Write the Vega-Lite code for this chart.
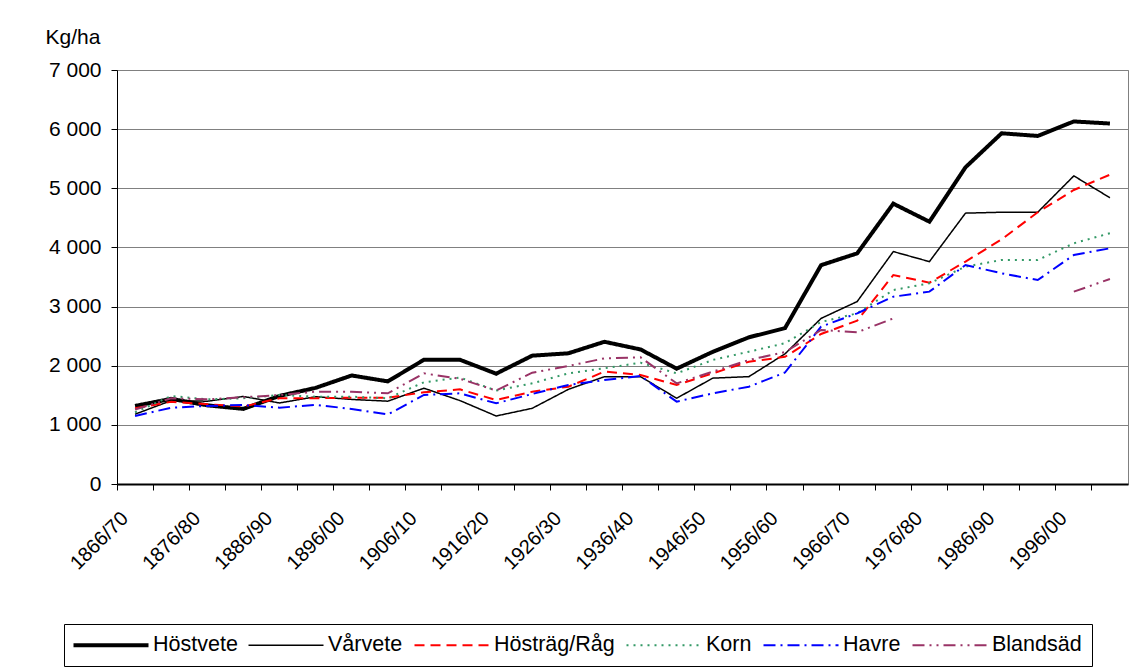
{
"$schema": "https://vega.github.io/schema/vega-lite/v6.json",
"width": 1011, "height": 414,
"autosize": {"type": "none"},
"padding": {"left": 117, "top": 70, "right": 8, "bottom": 187},
"background": "white",
"config": {"font": "Liberation Sans", "view": {"stroke": "#808080", "strokeWidth": 1}},
"datasets": {"d": [
{"p":"1866/70","s":"Höstvete","v":1320},{"p":"1871/75","s":"Höstvete","v":1440},{"p":"1876/80","s":"Höstvete","v":1330},{"p":"1881/85","s":"Höstvete","v":1270},{"p":"1886/90","s":"Höstvete","v":1490},{"p":"1891/95","s":"Höstvete","v":1625},{"p":"1896/00","s":"Höstvete","v":1835},{"p":"1901/05","s":"Höstvete","v":1735},{"p":"1906/10","s":"Höstvete","v":2100},{"p":"1911/15","s":"Höstvete","v":2100},{"p":"1916/20","s":"Höstvete","v":1865},{"p":"1921/25","s":"Höstvete","v":2170},{"p":"1926/30","s":"Höstvete","v":2210},{"p":"1931/35","s":"Höstvete","v":2405},{"p":"1936/40","s":"Höstvete","v":2275},{"p":"1941/45","s":"Höstvete","v":1950},{"p":"1946/50","s":"Höstvete","v":2235},{"p":"1951/55","s":"Höstvete","v":2480},{"p":"1956/60","s":"Höstvete","v":2635},{"p":"1961/65","s":"Höstvete","v":3700},{"p":"1966/70","s":"Höstvete","v":3900},{"p":"1971/75","s":"Höstvete","v":4740},{"p":"1976/80","s":"Höstvete","v":4435},{"p":"1981/85","s":"Höstvete","v":5355},{"p":"1986/90","s":"Höstvete","v":5930},{"p":"1991/95","s":"Höstvete","v":5885},{"p":"1996/00","s":"Höstvete","v":6130},{"p":"2001/05","s":"Höstvete","v":6095},
{"p":"1866/70","s":"Vårvete","v":1180},{"p":"1871/75","s":"Vårvete","v":1410},{"p":"1876/80","s":"Vårvete","v":1400},{"p":"1881/85","s":"Vårvete","v":1480},{"p":"1886/90","s":"Vårvete","v":1370},{"p":"1891/95","s":"Vårvete","v":1476},{"p":"1896/00","s":"Vårvete","v":1430},{"p":"1901/05","s":"Vårvete","v":1400},{"p":"1906/10","s":"Vårvete","v":1620},{"p":"1911/15","s":"Vårvete","v":1410},{"p":"1916/20","s":"Vårvete","v":1150},{"p":"1921/25","s":"Vårvete","v":1280},{"p":"1926/30","s":"Vårvete","v":1600},{"p":"1931/35","s":"Vårvete","v":1815},{"p":"1936/40","s":"Vårvete","v":1815},{"p":"1941/45","s":"Vårvete","v":1450},{"p":"1946/50","s":"Vårvete","v":1790},{"p":"1951/55","s":"Vårvete","v":1815},{"p":"1956/60","s":"Vårvete","v":2200},{"p":"1961/65","s":"Vårvete","v":2800},{"p":"1966/70","s":"Vårvete","v":3085},{"p":"1971/75","s":"Vårvete","v":3930},{"p":"1976/80","s":"Vårvete","v":3760},{"p":"1981/85","s":"Vårvete","v":4580},{"p":"1986/90","s":"Vårvete","v":4595},{"p":"1991/95","s":"Vårvete","v":4595},{"p":"1996/00","s":"Vårvete","v":5210},{"p":"2001/05","s":"Vårvete","v":4840},
{"p":"1866/70","s":"Hösträg/Råg","v":1280},{"p":"1871/75","s":"Hösträg/Råg","v":1390},{"p":"1876/80","s":"Hösträg/Råg","v":1350},{"p":"1881/85","s":"Hösträg/Råg","v":1310},{"p":"1886/90","s":"Hösträg/Råg","v":1450},{"p":"1891/95","s":"Hösträg/Råg","v":1450},{"p":"1896/00","s":"Hösträg/Råg","v":1460},{"p":"1901/05","s":"Hösträg/Råg","v":1460},{"p":"1906/10","s":"Hösträg/Råg","v":1550},{"p":"1911/15","s":"Hösträg/Råg","v":1600},{"p":"1916/20","s":"Hösträg/Råg","v":1420},{"p":"1921/25","s":"Hösträg/Råg","v":1560},{"p":"1926/30","s":"Hösträg/Råg","v":1645},{"p":"1931/35","s":"Hösträg/Råg","v":1900},{"p":"1936/40","s":"Hösträg/Råg","v":1843},{"p":"1941/45","s":"Hösträg/Råg","v":1674},{"p":"1946/50","s":"Hösträg/Råg","v":1871},{"p":"1951/55","s":"Hösträg/Råg","v":2068},{"p":"1956/60","s":"Hösträg/Råg","v":2150},{"p":"1961/65","s":"Hösträg/Råg","v":2536},{"p":"1966/70","s":"Hösträg/Råg","v":2762},{"p":"1971/75","s":"Hösträg/Råg","v":3534},{"p":"1976/80","s":"Hösträg/Råg","v":3404},{"p":"1981/85","s":"Hösträg/Råg","v":3760},{"p":"1986/90","s":"Hösträg/Råg","v":4137},{"p":"1991/95","s":"Hösträg/Råg","v":4594},{"p":"1996/00","s":"Hösträg/Råg","v":4971},{"p":"2001/05","s":"Hösträg/Råg","v":5230},
{"p":"1866/70","s":"Korn","v":1212},{"p":"1871/75","s":"Korn","v":1488},{"p":"1876/80","s":"Korn","v":1432},{"p":"1881/85","s":"Korn","v":1449},{"p":"1886/90","s":"Korn","v":1505},{"p":"1891/95","s":"Korn","v":1476},{"p":"1896/00","s":"Korn","v":1476},{"p":"1901/05","s":"Korn","v":1449},{"p":"1906/10","s":"Korn","v":1720},{"p":"1911/15","s":"Korn","v":1800},{"p":"1916/20","s":"Korn","v":1580},{"p":"1921/25","s":"Korn","v":1702},{"p":"1926/30","s":"Korn","v":1871},{"p":"1931/35","s":"Korn","v":1956},{"p":"1936/40","s":"Korn","v":2051},{"p":"1941/45","s":"Korn","v":1871},{"p":"1946/50","s":"Korn","v":2097},{"p":"1951/55","s":"Korn","v":2237},{"p":"1956/60","s":"Korn","v":2380},{"p":"1961/65","s":"Korn","v":2740},{"p":"1966/70","s":"Korn","v":2886},{"p":"1971/75","s":"Korn","v":3280},{"p":"1976/80","s":"Korn","v":3393},{"p":"1981/85","s":"Korn","v":3675},{"p":"1986/90","s":"Korn","v":3788},{"p":"1991/95","s":"Korn","v":3788},{"p":"1996/00","s":"Korn","v":4070},{"p":"2001/05","s":"Korn","v":4240},
{"p":"1866/70","s":"Havre","v":1150},{"p":"1871/75","s":"Havre","v":1290},{"p":"1876/80","s":"Havre","v":1320},{"p":"1881/85","s":"Havre","v":1336},{"p":"1886/90","s":"Havre","v":1291},{"p":"1891/95","s":"Havre","v":1336},{"p":"1896/00","s":"Havre","v":1270},{"p":"1901/05","s":"Havre","v":1175},{"p":"1906/10","s":"Havre","v":1505},{"p":"1911/15","s":"Havre","v":1533},{"p":"1916/20","s":"Havre","v":1364},{"p":"1921/25","s":"Havre","v":1522},{"p":"1926/30","s":"Havre","v":1674},{"p":"1931/35","s":"Havre","v":1758},{"p":"1936/40","s":"Havre","v":1826},{"p":"1941/45","s":"Havre","v":1392},{"p":"1946/50","s":"Havre","v":1533},{"p":"1951/55","s":"Havre","v":1645},{"p":"1956/60","s":"Havre","v":1885},{"p":"1961/65","s":"Havre","v":2660},{"p":"1966/70","s":"Havre","v":2886},{"p":"1971/75","s":"Havre","v":3167},{"p":"1976/80","s":"Havre","v":3252},{"p":"1981/85","s":"Havre","v":3703},{"p":"1986/90","s":"Havre","v":3562},{"p":"1991/95","s":"Havre","v":3449},{"p":"1996/00","s":"Havre","v":3872},{"p":"2001/05","s":"Havre","v":3985},
{"p":"1866/70","s":"Blandsäd","v":1260},{"p":"1871/75","s":"Blandsäd","v":1449},{"p":"1876/80","s":"Blandsäd","v":1432},{"p":"1881/85","s":"Blandsäd","v":1466},{"p":"1886/90","s":"Blandsäd","v":1505},{"p":"1891/95","s":"Blandsäd","v":1561},{"p":"1896/00","s":"Blandsäd","v":1561},{"p":"1901/05","s":"Blandsäd","v":1533},{"p":"1906/10","s":"Blandsäd","v":1871},{"p":"1911/15","s":"Blandsäd","v":1780},{"p":"1916/20","s":"Blandsäd","v":1580},{"p":"1921/25","s":"Blandsäd","v":1882},{"p":"1926/30","s":"Blandsäd","v":1995},{"p":"1931/35","s":"Blandsäd","v":2125},{"p":"1936/40","s":"Blandsäd","v":2142},{"p":"1941/45","s":"Blandsäd","v":1702},{"p":"1946/50","s":"Blandsäd","v":1899},{"p":"1951/55","s":"Blandsäd","v":2097},{"p":"1956/60","s":"Blandsäd","v":2230},{"p":"1961/65","s":"Blandsäd","v":2604},{"p":"1966/70","s":"Blandsäd","v":2565},{"p":"1971/75","s":"Blandsäd","v":2800},{"p":"1976/80","s":"Blandsäd","v":null},{"p":"1981/85","s":"Blandsäd","v":null},{"p":"1986/90","s":"Blandsäd","v":null},{"p":"1991/95","s":"Blandsäd","v":null},{"p":"1996/00","s":"Blandsäd","v":3252},{"p":"2001/05","s":"Blandsäd","v":3466}
]},
"data": {"name": "d"},
"mark": {"type": "line", "invalid": "break-paths-show-domains"},
"encoding": {
"x": {"field": "p", "type": "ordinal", "sort": null,
 "scale": {"type": "band", "paddingInner": 0, "paddingOuter": 0},
 "axis": {"title": null, "bandPosition": 0, "labelOffset": -10, "labelAngle": -45, "labelAlign": "right", "labelBaseline": "middle",
  "labelExpr": "slice(datum.label, 3, 4) == '6' ? datum.label : ''", "labelOverlap": false, "labelBound": false, "labelFlush": false,
  "tickSize": 6, "tickColor": "black", "domainColor": "black", "domainWidth": 2, "labelFontSize": 20, "labelColor": "black", "grid": false, "labelPadding": 25}},
"y": {"field": "v", "type": "quantitative", "scale": {"domain": [0, 7000], "nice": false},
 "axis": {"title": "Kg/ha", "titleAngle": 0, "titleAlign": "left", "titleBaseline": "middle", "titleX": -72, "titleY": -33, "titleFontSize": 21, "titleFontWeight": "normal", "titleColor": "black",
  "values": [0,1000,2000,3000,4000,5000,6000,7000], "labelExpr": "replace(format(datum.value, ','), ',', ' ')",
  "gridColor": "#808080", "gridWidth": 1, "gridOpacity": 1, "domainColor": "black", "tickColor": "black", "tickSize": 6, "labelPadding": 10, "labelFontSize": 21, "labelColor": "black"}},
"color": {"field": "s", "type": "nominal",
 "scale": {"domain": ["Höstvete","Vårvete","Hösträg/Råg","Korn","Havre","Blandsäd"], "range": ["#000000","#000000","#FF0000","#339966","#0000FF","#993366"]},
 "legend": {"title": null, "orient": "none", "legendX": -53, "legendY": 554, "direction": "horizontal", "columns": 6,
  "symbolType": "M-3,0H17", "symbolSize": 56.25,
  "labelFontSize": 21.5, "labelColor": "black", "labelFont": "Liberation Sans", "strokeColor": "black", "fillColor": "white", "padding": 10, "columnPadding": 7, "labelOffset": 57.5,
  "encode": {"symbols": {"update": {"strokeWidth": {"signal": "datum.value === 'Höstvete' ? 4 : datum.value === 'Vårvete' ? 1.5 : 2"}, "fill": {"value": "transparent"}}}}}},
"strokeDash": {"field": "s", "type": "nominal",
 "scale": {"domain": ["Höstvete","Vårvete","Hösträg/Råg","Korn","Havre","Blandsäd"], "range": [[1,0],[1,0],[10,6],[2,5],[12,5,2,5],[12,5,2,5,2,5]]}},
"strokeWidth": {"condition": [{"test": "datum.s === 'Höstvete'", "value": 4}, {"test": "datum.s === 'Vårvete'", "value": 1.5}], "value": 2}
}
}
